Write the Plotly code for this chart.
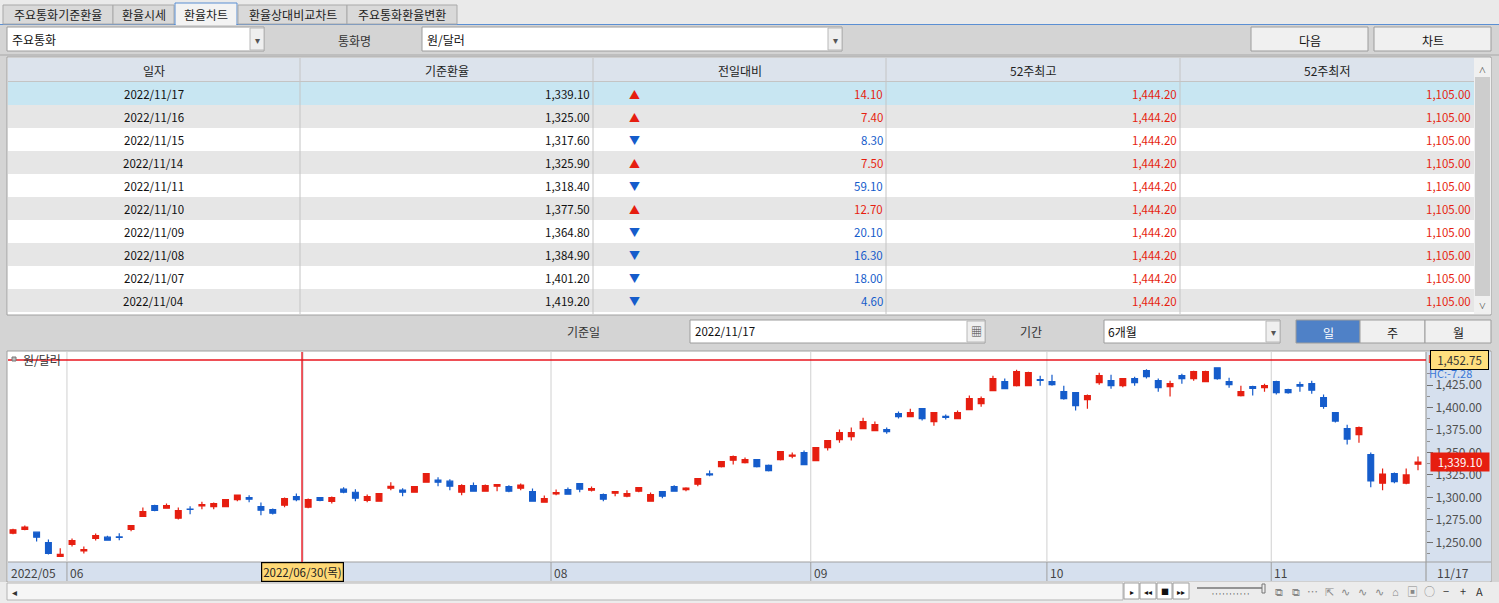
import plotly.graph_objects as go
import pandas as pd

W, H = 1499, 603
FONT = "Noto Sans CJK KR"

# ---------------- data ----------------
holidays = ['2022-06-01', '2022-06-06', '2022-08-15', '2022-09-09',
            '2022-09-12', '2022-10-03', '2022-10-10']
trade_days = [d for d in pd.bdate_range('2022-05-25', '2022-11-17')
              if d.strftime('%Y-%m-%d') not in holidays]
dates = [d.strftime('%Y/%m/%d') for d in trade_days]

opens = [1260.2, 1264.3, 1261.3, 1249.8, 1234.3, 1247.6, 1240.5, 1254.3, 1255.7, 1256.0,
         1264.3, 1278.7, 1290.9, 1288.0, 1276.9, 1287.0, 1290.6, 1289.8, 1289.8, 1297.6,
         1299.8, 1289.8, 1286.5, 1291.3, 1300.9, 1289.1, 1299.8, 1295.4, 1309.1, 1305.7,
         1296.5, 1295.8, 1310.2, 1308.0, 1305.7, 1316.8, 1319.1, 1318.0, 1305.7, 1313.2,
         1306.8, 1312.4, 1312.1, 1310.2, 1306.5, 1294.6, 1304.0, 1308.7, 1315.4, 1308.0,
         1303.2, 1304.7, 1301.3, 1306.8, 1295.8, 1306.5, 1312.1, 1308.7, 1314.7, 1326.1,
         1334.3, 1341.3, 1338.7, 1342.1, 1335.6, 1342.1, 1345.8, 1349.8, 1340.9, 1355.4,
         1364.3, 1367.6, 1376.5, 1374.3, 1375.4, 1393.2, 1389.8, 1398.7, 1384.3, 1390.2,
         1387.6, 1397.6, 1404.3, 1418.7, 1428.7, 1424.3, 1424.3, 1431.0, 1428.7, 1417.6,
         1416.5, 1408.7, 1427.6, 1429.8, 1424.3, 1432.1, 1440.9, 1429.8, 1423.2, 1435.4,
         1432.1, 1428.7, 1444.2, 1428.7, 1413.2, 1423.2, 1422.0, 1428.7, 1419.8, 1425.5,
         1426.5, 1410.9, 1394.3, 1376.5, 1369.8, 1347.6, 1315.8, 1326.5, 1315.8, 1336.9]
highs = [1265.0, 1268.7, 1262.1, 1253.2, 1243.5, 1254.3, 1245.4, 1259.8, 1257.2, 1260.2,
         1268.7, 1288.7, 1291.7, 1293.2, 1288.7, 1290.2, 1295.0, 1294.3, 1297.6, 1303.2,
         1302.4, 1294.3, 1287.6, 1299.8, 1304.3, 1298.7, 1299.8, 1300.9, 1311.3, 1309.1,
         1303.2, 1304.3, 1316.8, 1310.2, 1312.1, 1326.5, 1322.4, 1320.2, 1314.7, 1316.5,
         1314.3, 1314.3, 1313.6, 1315.4, 1309.8, 1302.1, 1308.7, 1310.9, 1315.4, 1312.1,
         1304.3, 1306.5, 1308.0, 1310.9, 1305.4, 1306.5, 1313.6, 1311.3, 1320.9, 1329.8,
         1339.8, 1346.5, 1344.3, 1342.1, 1336.5, 1350.9, 1349.8, 1352.1, 1355.4, 1363.2,
         1375.4, 1377.6, 1388.7, 1384.3, 1377.6, 1395.4, 1398.7, 1398.7, 1394.3, 1392.1,
         1396.5, 1413.2, 1412.1, 1435.4, 1432.1, 1442.1, 1439.8, 1435.4, 1436.5, 1424.3,
         1416.5, 1414.3, 1438.7, 1436.5, 1432.1, 1434.3, 1442.4, 1432.1, 1429.8, 1437.6,
         1440.9, 1440.9, 1444.2, 1433.2, 1424.3, 1424.3, 1426.5, 1429.8, 1420.9, 1428.7,
         1429.8, 1414.3, 1394.3, 1380.9, 1378.7, 1349.8, 1332.0, 1327.6, 1332.0, 1345.4]
lows = [1259.1, 1263.5, 1250.9, 1236.5, 1234.3, 1245.4, 1237.6, 1252.0, 1252.4, 1252.4,
        1262.4, 1278.7, 1284.6, 1288.0, 1275.4, 1281.3, 1286.9, 1286.9, 1289.8, 1295.8,
        1294.6, 1280.2, 1280.9, 1289.1, 1295.8, 1288.0, 1295.8, 1293.2, 1304.6, 1295.8,
        1294.6, 1295.8, 1308.0, 1301.3, 1305.7, 1316.8, 1312.4, 1308.0, 1302.4, 1306.8,
        1306.8, 1306.8, 1305.7, 1308.0, 1295.8, 1294.6, 1302.4, 1303.5, 1305.7, 1306.5,
        1295.8, 1301.3, 1300.2, 1305.7, 1295.8, 1299.1, 1306.8, 1306.8, 1312.4, 1323.5,
        1333.2, 1336.5, 1337.6, 1333.2, 1328.7, 1340.9, 1343.5, 1336.5, 1340.9, 1352.1,
        1360.9, 1363.2, 1376.5, 1374.3, 1370.9, 1387.6, 1389.8, 1385.4, 1379.8, 1386.5,
        1387.6, 1397.6, 1400.9, 1418.7, 1420.9, 1423.2, 1424.3, 1424.3, 1424.3, 1408.7,
        1396.5, 1398.7, 1425.4, 1420.9, 1422.4, 1424.3, 1432.1, 1417.6, 1412.1, 1426.5,
        1429.8, 1428.7, 1430.9, 1422.0, 1412.1, 1413.2, 1417.6, 1414.3, 1415.4, 1417.6,
        1415.4, 1398.7, 1383.2, 1358.7, 1360.9, 1311.3, 1308.0, 1315.8, 1314.7, 1330.2]
closes = [1263.9, 1266.8, 1255.7, 1237.6, 1236.5, 1252.0, 1241.8, 1257.6, 1252.4, 1255.5,
          1268.7, 1284.3, 1285.4, 1290.9, 1285.4, 1286.7, 1292.1, 1293.2, 1297.6, 1302.4,
          1298.0, 1285.7, 1282.4, 1298.7, 1297.6, 1297.6, 1296.5, 1299.8, 1305.7, 1299.1,
          1300.9, 1304.3, 1312.4, 1305.7, 1312.1, 1326.5, 1316.8, 1312.4, 1313.2, 1306.8,
          1313.2, 1314.3, 1306.8, 1313.6, 1295.8, 1298.7, 1305.2, 1303.5, 1309.1, 1309.8,
          1298.0, 1306.5, 1304.3, 1310.9, 1303.2, 1301.3, 1306.8, 1310.2, 1320.9, 1325.0,
          1339.8, 1345.4, 1342.1, 1334.3, 1329.8, 1350.9, 1346.9, 1336.5, 1355.4, 1363.2,
          1372.1, 1372.1, 1384.3, 1380.9, 1373.2, 1389.8, 1394.3, 1387.6, 1394.3, 1388.9,
          1394.3, 1409.8, 1409.8, 1432.1, 1420.9, 1439.8, 1438.7, 1430.0, 1425.4, 1409.8,
          1402.1, 1413.2, 1435.4, 1424.3, 1432.1, 1427.6, 1434.3, 1422.1, 1426.5, 1432.1,
          1439.8, 1439.8, 1432.1, 1425.4, 1417.6, 1421.3, 1424.3, 1416.5, 1416.5, 1423.8,
          1419.2, 1401.2, 1384.9, 1364.8, 1377.5, 1318.4, 1325.9, 1317.6, 1325.0, 1339.1]

# table data
tbl_dates = ['2022/11/17', '2022/11/16', '2022/11/15', '2022/11/14', '2022/11/11',
             '2022/11/10', '2022/11/09', '2022/11/08', '2022/11/07', '2022/11/04']
tbl_rates = [1339.10, 1325.00, 1317.60, 1325.90, 1318.40, 1377.50, 1364.80, 1384.90, 1401.20, 1419.20]
tbl_change = [14.10, 7.40, 8.30, 7.50, 59.10, 12.70, 20.10, 16.30, 18.00, 4.60]
tbl_dir = ['up', 'up', 'down', 'up', 'down', 'up', 'down', 'down', 'down', 'down']
tbl_high52 = [1444.20] * 10
tbl_low52 = [1105.00] * 10
tbl_headers = ['일자', '기준환율', '전일대비', '52주최고', '52주최저']

tabs = ['주요통화기준환율', '환율시세', '환율차트', '환율상대비교차트', '주요통화환율변환']
y_ticks = [1250, 1275, 1300, 1325, 1350, 1375, 1400, 1425]
y_minor = [1237.5, 1262.5, 1287.5, 1312.5, 1337.5, 1362.5, 1387.5, 1412.5, 1437.5]
ref_line_value = 1452.75
ref_line_text = 'HC:-7.28'
cursor_date = '2022/06/30'
cursor_label = '2022/06/30(목)'

RED = '#E61E10'
BLUE = '#155CCB'

# ---------------- helpers ----------------
def X(p):
    return p / W


def Y(p):
    return 1 - p / H


shapes = []
annotations = []


def box(x0, y0, x1, y1, fill=None, line=None, lw=1, layer='below'):
    shapes.append(dict(type='rect', xref='paper', yref='paper',
                       x0=X(x0), x1=X(x1), y0=Y(y1), y1=Y(y0),
                       fillcolor=fill if fill else 'rgba(0,0,0,0)',
                       line=dict(color=line if line else 'rgba(0,0,0,0)', width=lw if line else 0),
                       layer=layer))


def seg(x0, y0, x1, y1, color, lw=1, layer='below'):
    shapes.append(dict(type='line', xref='paper', yref='paper',
                       x0=X(x0), x1=X(x1), y0=Y(y0), y1=Y(y1),
                       line=dict(color=color, width=lw), layer=layer))


def txt(x, y, s, size=12, color='#111111', anchor='center', family=FONT, **kw):
    d = dict(xref='paper', yref='paper', x=X(x), y=Y(y), text=s, showarrow=False,
             xanchor=anchor, yanchor='middle', borderpad=0,
             font=dict(family=family, size=size, color=color))
    d.update(kw)
    annotations.append(d)


# ---------------- top tabs ----------------
box(0, 0, W, 25, fill='#EAEAEA')
seg(0, 24.5, W, 24.5, '#5B8FD3', 1)
tab_x = [(3, 113), (113, 174), (175, 237), (238, 347), (347, 457)]
for i, (t, (a, b)) in enumerate(zip(tabs, tab_x)):
    if i == 2:
        box(a, 3, b, 25, fill='#F3F3F3', line='#5B8FD3')
        seg(a + 1, 24.5, b - 1, 24.5, '#F3F3F3', 1.5)
    else:
        box(a, 5, b, 24, fill='#D9D9D9', line='#A9A9A9')
    txt((a + b) / 2, 15, t, size=12, color='#222222')

# ---------------- control row 1 ----------------
box(0, 25, W, 56, fill='#D4D4D4')
seg(0, 55, W, 55, '#A8A8A8', 1)
box(7, 27, 264, 51, fill='#FFFFFF', line='#9C9C9C')
box(250, 28, 264, 50, fill='#EFEFEF', line='#B8B8B8')
txt(257, 39, '▾', size=10, color='#555555')
txt(11, 39, '주요통화', size=12, anchor='left')
txt(354, 40, '통화명', size=12, color='#333333')
box(422, 27, 842, 51, fill='#FFFFFF', line='#9C9C9C')
box(828, 28, 842, 50, fill='#EFEFEF', line='#B8B8B8')
txt(835, 39, '▾', size=10, color='#555555')
txt(426, 39, '원/달러', size=12, anchor='left')
for (a, b), lab in zip([(1251, 1368), (1374, 1491)], ['다음', '차트']):
    box(a, 27, b, 51, fill='#F0F0F0', line='#9C9C9C')
    txt((a + b) / 2, 40, lab, size=12)

# ---------------- table ----------------
cols = [7, 300, 593, 886, 1180, 1474]
box(7, 57, 1491, 315, fill='#FFFFFF', line='#A0A0A0')
box(8, 58, 1474, 81, fill='#DCE3EC')
row_h = 23
for i in range(len(tbl_dates)):
    top = 82 + i * row_h
    if i == 0:
        fill = '#C8E6F2'
    elif i % 2 == 1:
        fill = '#E6E6E6'
    else:
        fill = '#FFFFFF'
    box(8, top, 1474, top + row_h, fill=fill)
for c in cols[1:-1]:
    seg(c, 58, c, 314, '#C4C4C4', 1)
seg(8, 81.5, 1474, 81.5, '#C4C4C4', 1)
for j, hname in enumerate(tbl_headers):
    txt((cols[j] + cols[j + 1]) / 2, 70, hname, size=12, color='#222222')
for i in range(len(tbl_dates)):
    cy = 94 + i * row_h
    up = tbl_dir[i] == 'up'
    ccol = RED if up else BLUE
    txt((cols[0] + cols[1]) / 2, cy, tbl_dates[i], size=11.5)
    txt(cols[2] - 2, cy, f'{tbl_rates[i]:,.2f}', size=11.5, anchor='right')
    txt(634, cy, '▲' if up else '▼', size=11, color=ccol)
    txt(cols[3] - 2, cy, f'{tbl_change[i]:,.2f}', size=11.5, color=ccol, anchor='right')
    txt(cols[4] - 2, cy, f'{tbl_high52[i]:,.2f}', size=11.5, color=RED, anchor='right')
    txt(cols[5] - 2, cy, f'{tbl_low52[i]:,.2f}', size=11.5, color=RED, anchor='right')
# table scrollbar
box(1474, 58, 1491, 314, fill='#F0F0F0')
box(1475, 77, 1490, 296, fill='#CDCDCD')
txt(1482, 68, '˄', size=12, color='#555555')
txt(1482, 304, '˅', size=12, color='#555555')

# ---------------- control row 2 ----------------
box(0, 316, W, 349, fill='#D4D4D4')
txt(583, 331, '기준일', size=12, color='#333333')
box(690, 320, 985, 343, fill='#FFFFFF', line='#9C9C9C')
box(967, 321, 985, 342, fill='#EFEFEF', line='#B8B8B8')
txt(976, 331, '▦', size=11, color='#444444')
txt(694, 331, '2022/11/17', size=11.5, anchor='left')
txt(1031, 331, '기간', size=12, color='#333333')
box(1104, 320, 1280, 343, fill='#FFFFFF', line='#9C9C9C')
box(1266, 321, 1280, 342, fill='#EFEFEF', line='#B8B8B8')
txt(1273, 331, '▾', size=10, color='#555555')
txt(1107, 331, '6개월', size=12, anchor='left')
for (a, b), lab, sel in zip([(1296, 1360), (1360, 1425), (1425, 1491)], ['일', '주', '월'],
                            [True, False, False]):
    box(a, 320, b, 343, fill='#4F81C7' if sel else '#F0F0F0', line='#9C9C9C')
    txt((a + b) / 2, 332, lab, size=12, color='#FFFFFF' if sel else '#222222')

# ---------------- chart frame ----------------
box(7, 351, 1491, 582, fill='#FFFFFF', line='#A0A0A0')
box(1426, 352, 1491, 581, fill='#D6E0EE')
box(8, 562, 1426, 581, fill='#D6E0EE')
seg(8, 562, 1491, 562, '#A0A0A0', 1.2)
seg(1426, 352, 1426, 581, '#A0A0A0', 1.2)

# scrollbar area
box(0, 582, W, H, fill='#ECECEC')
box(7, 583, 1123, 600, fill='#F6F6F6', line='#B4B4B4')
txt(14, 591, '◂', size=10, color='#333333')
btns = [('▸', 1124, 1139), ('◂◂', 1140, 1156), ('■', 1157, 1172), ('▸▸', 1173, 1189)]
for g, a, b in btns:
    box(a, 583, b, 599, fill='#FFFFFF', line='#A0A0A0')
    txt((a + b) / 2, 591, g, size=8, color='#111111')
seg(1197, 588, 1263, 588, '#777777', 1.5)
box(1262, 584, 1265, 593, fill='#EEEEEE', line='#777777')
txt(1230, 595, "' ' ' ' ' ' ' ' ' ' '", size=7, color='#555555')
icons = ['⧉', '⧉', '⋯', '⇱', '∿', '∿', '∿', '⌂', '▣', '○', '−', '+', 'A']
for k, g in enumerate(icons):
    txt(1279 + k * 16.7, 591, g, size=11, color='#888888' if k < 10 else '#333333')

# ---------------- candlestick ----------------
n = len(dates)
month_idx = [i for i in range(1, n) if dates[i][5:7] != dates[i - 1][5:7]]
cursor_idx = dates.index(cursor_date)

for i in month_idx:
    shapes.append(dict(type='line', xref='x', yref='y domain', x0=i - 0.43, x1=i - 0.43,
                       y0=0, y1=1, line=dict(color='#D0D0D0', width=1), layer='below'))
    shapes.append(dict(type='line', xref='x', yref='paper', x0=i - 0.43, x1=i - 0.43,
                       y0=Y(581), y1=Y(562), line=dict(color='#A0A0A0', width=1), layer='above'))
    if abs(i - cursor_idx) > 4:  # label hidden under the cursor date box otherwise
        annotations.append(dict(xref='x', yref='paper', x=i - 0.43, y=Y(572), xshift=1,
                                text=dates[i][5:7], showarrow=False, xanchor='left', yanchor='middle',
                                font=dict(family=FONT, size=12, color='#444444')))
annotations.append(dict(xref='paper', yref='paper', x=X(9), y=Y(572), text=dates[0][:7],
                        showarrow=False, xanchor='left', yanchor='middle',
                        font=dict(family=FONT, size=12, color='#444444')))
txt(1436, 572, dates[-1][5:], size=12, color='#444444', anchor='left')

# horizontal reference line
shapes.append(dict(type='line', xref='x domain', yref='y', x0=0, x1=1,
                   y0=ref_line_value, y1=ref_line_value, line=dict(color='#E8141E', width=1.4),
                   layer='above'))
# crosshair
shapes.append(dict(type='line', xref='x', yref='y domain', x0=cursor_idx + 0.48, x1=cursor_idx + 0.48,
                   y0=0, y1=1, line=dict(color='#E8141E', width=1.4), layer='above'))
annotations.append(dict(xref='x', yref='paper', x=cursor_idx + 0.48, y=Y(571.5), text=cursor_label,
                        showarrow=False, xanchor='center', yanchor='middle', bgcolor='#FFD976',
                        bordercolor='#000000', borderwidth=1.2, borderpad=1,
                        font=dict(family=FONT, size=11.5, color='#222222')))

# legend
box(12, 357, 16, 361, fill='#BBBBBB', line='#777777', layer='above')
txt(22, 360, '원/달러', size=12, color='#333333', anchor='left')

# right side labels
txt(1427, 358, 'L', size=11, color=RED, anchor='left')
txt(1428, 373, ref_line_text, size=11, color='#3A78D8', anchor='left')
annotations.append(dict(xref='paper', yref='y', x=X(1459.5), y=ref_line_value,
                        text=f'{ref_line_value:,.2f}', showarrow=False, xanchor='center',
                        yanchor='middle', bgcolor='#FFDF7E', bordercolor='#000000', borderwidth=1,
                        borderpad=1, width=55, font=dict(family=FONT, size=11.5, color='#333333')))
annotations.append(dict(xref='paper', yref='y', x=X(1459.5), y=closes[-1],
                        text=f'{closes[-1]:,.2f}', showarrow=False, xanchor='center',
                        yanchor='middle', bgcolor=RED, borderpad=1, width=56,
                        font=dict(family=FONT, size=11.5, color='#FFFFFF')))

fig = go.Figure(go.Candlestick(
    x=dates, open=opens, high=highs, low=lows, close=closes,
    increasing=dict(line=dict(color=RED, width=1.2), fillcolor=RED),
    decreasing=dict(line=dict(color=BLUE, width=1.2), fillcolor=BLUE),
    whiskerwidth=0, showlegend=False, hoverinfo='skip'))

y_lo = 1425 - (562 - 385) / 0.899
y_hi = 1425 + (385 - 352) / 0.899
spacing = (1418 - 13) / (n - 1)

fig.update_layout(
    width=W, height=H, margin=dict(l=0, r=0, t=0, b=0),
    paper_bgcolor='#D4D4D4', plot_bgcolor='#FFFFFF',
    shapes=shapes, annotations=annotations, showlegend=False,
    xaxis=dict(type='category', domain=[X(8), X(1426)],
               range=[-(13 - 8) / spacing, (n - 1) + (1426 - 1418) / spacing],
               showticklabels=False, showgrid=False, zeroline=False, showline=False, ticks='',
               rangeslider=dict(visible=False), fixedrange=True),
    yaxis=dict(domain=[Y(562), Y(352)], range=[y_lo, y_hi], side='right',
               tickvals=y_ticks, ticktext=[f'{v:,.2f}' for v in y_ticks],
               ticks='outside', ticklen=6, tickcolor='#707070', tickwidth=1,
               minor=dict(tickvals=y_minor, ticks='outside', ticklen=3, tickcolor='#909090'),
               tickfont=dict(family=FONT, size=12, color='#505050'),
               showgrid=False, zeroline=False, showline=False, fixedrange=True),
)

fig.write_html('out.html', config={'displayModeBar': False},
               post_script="document.body.style.margin='0';document.body.style.overflow='hidden';")
